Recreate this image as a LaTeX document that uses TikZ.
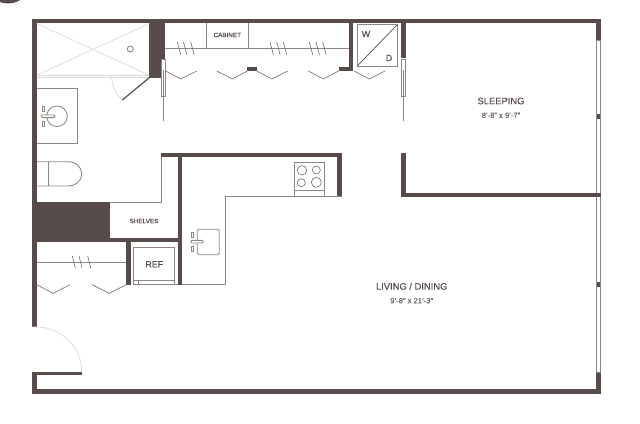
\documentclass[tikz,border=0pt]{standalone}
\usepackage{fontspec}
\setmainfont[FakeBold=0.25]{Liberation Sans}
\definecolor{walldark}{HTML}{574C49}
\definecolor{linegray}{HTML}{8E8684}
\definecolor{faintgray}{HTML}{DAD8D7}
\tikzset{
	wall/.style={
		fill=walldark,
		draw=none
	},
	fixture/.style={
		draw=linegray,
		line width=0.75pt
	},
	thinline/.style={
		draw=walldark!85,
		line width=0.5pt
	},
	faint/.style={
		draw=faintgray,
		line width=0.6pt
	},
	roomname/.style={
		text=walldark,
		inner sep=0,
		font=\fontsize{8}{9}\selectfont
	},
	roomsize/.style={
		text=walldark!85,
		inner sep=0,
		font=\fontsize{6.5}{7}\selectfont
	},
	tinyname/.style={
		text=walldark,
		inner sep=0,
		font=\fontsize{5.4}{7}\selectfont
	},
	applname/.style={
		text=walldark,
		inner sep=0,
		font=\fontsize{7.6}{9}\selectfont
	}
}
\begin{document}
\begin{tikzpicture}[x=0.03cm, y=-0.03cm]
		\useasboundingbox (0,0) rectangle (640,424);
		\begin{scope}
		\clip (0,0) rectangle (640,424);
		\fill[walldark] (8,-20) circle [radius=23.5];
		\end{scope}

		% outer walls
		\fill[wall] (32,19) rectangle (601,23.5);
		\fill[wall] (32,19) rectangle (36.7,327);
		\fill[wall] (32,372.3) rectangle (36.7,394);
		\fill[wall] (32,389.3) rectangle (601,394);
		\fill[wall] (36,372.3) rectangle (81.7,374.7);
		\fill[wall] (596,19) rectangle (601,40.7);
		\fill[wall] (596,114) rectangle (601,119);
		\fill[wall] (596,282) rectangle (601,287);
		\fill[wall] (596,372) rectangle (601,394);
		\draw[fixture] (596.4,40.7) rectangle (600.6,372);

		% sleeping walls
		\fill[wall] (401,19) rectangle (405.7,58);
		\fill[wall] (401,153) rectangle (406,197.3);
		\fill[wall] (401,192.7) rectangle (601,197.3);

		% inner walls
		\fill[wall] (149.3,19) rectangle (165.3,77.7);
		\fill[wall] (349,19) rectangle (353.3,71);
		\fill[wall] (338.7,66.7) rectangle (353.3,71);
		\fill[wall] (247.3,66.7) rectangle (256.7,71);
		\fill[wall] (32,202) rectangle (110,242.3);
		\fill[wall] (32,238.3) rectangle (178,242.3);
		\fill[wall] (126,238.3) rectangle (130.7,284.7);
		\fill[wall] (161.3,152.7) rectangle (341.7,157.4);
		\fill[wall] (177.7,152.7) rectangle (182.3,284.7);
		\fill[wall] (336.7,152.7) rectangle (341.7,196.7);

		% shower
		\draw[faint] (36.7,23.5) -- (149.3,75.3);
		\draw[faint] (36.7,75.3) -- (149.3,23.5);
		\draw[faint] (36.7,75.3) -- (149.3,75.3);
		\draw[faint] (36.7,77.7) -- (149.3,77.7);
		\draw[fixture] (130.3,49) circle [radius=3];
		\draw[faint] (111.7,77) .. controls (112,87) and (116,95) .. (122.3,100);
		\draw[walldark, line width=1pt] (122.3,100) -- (149.3,77.7);

		% sliding doors
		\draw[fixture, fill=white] (161.3,59) rectangle (165.3,96.7);
		\draw[fixture] (163.3,70) -- (163.3,96.7);
		\draw[fixture] (163.3,96.7) -- (163.3,120.5);
		\draw[fixture, fill=white] (401.7,59) rectangle (405.7,96.7);
		\draw[fixture] (403.7,70) -- (403.7,96.7);
		\draw[fixture] (403.3,96.7) -- (403.3,120.5);

		% vanity
		\draw[fixture] (36.7,88.7) -- (77.5,88.7) -- (77.5,143.3) -- (36.7,143.3);
		\draw[fixture] (57,116.3) circle [radius=10.3];
		\draw[fixture, fill=white, rounded corners=1pt] (41.3,115) rectangle (55,117.6);
		\draw[fixture] (42.2,106.2) rectangle (44.6,111.2);
		\draw[fixture] (42.2,121.5) rectangle (44.6,126.5);

		% toilet
		\draw[fixture] (36.7,161.7) -- (68,161.7) .. controls (76,161.7) and (81.7,167) .. (81.7,174) .. controls (81.7,181) and (76,186) .. (68,186) -- (36.7,186);
		\draw[fixture] (48.3,161.7) -- (48.3,186);

		% bath edge, shelves
		\draw[fixture] (110,202) -- (161.7,202) -- (161.7,157);
		\node[tinyname] (shelves) at (144,221) {SHELVES};

		% closet by the bath
		\draw[fixture] (165.3,48.7) -- (349,48.7);
		\draw[fixture] (206.7,23.5) -- (206.7,48.7);
		\draw[fixture] (248.3,23.5) -- (248.3,48.7);
		\node[tinyname] (cabinet) at (227.3,35) {CABINET};
		\draw[thinline] (177.3,42) -- +(3.5,13);
		\draw[thinline] (183.5,42) -- +(3.5,13);
		\draw[thinline] (190.7,42) -- +(3.5,13);
		\draw[thinline] (270,42) -- +(3.5,13);
		\draw[thinline] (276.7,42) -- +(3.5,13);
		\draw[thinline] (283.3,42) -- +(3.5,13);
		\draw[thinline] (309.3,42) -- +(3.5,13);
		\draw[thinline] (316,42) -- +(3.5,13);
		\draw[thinline] (322.7,42) -- +(3.5,13);
		\draw[thinline] (165.7,71) -- (180.7,79) -- (196.7,71);
		\draw[thinline] (216.7,71) -- (232.3,79) -- (247.3,71);
		\draw[thinline] (256.7,71) -- (272,79) -- (287.7,71);
		\draw[thinline] (308.3,71) -- (323.3,79) -- (338.7,71);
		\draw[thinline] (354,71) -- (369.3,79) -- (385,71);

		% washer, dryer
		\draw[fixture] (357.3,24.7) rectangle (397.3,66);
		\draw[walldark, line width=0.6pt] (357.3,66) -- (397.3,24.7);
		\node[applname] (washer) at (366,34) {W};
		\node[applname] (dryer) at (389,58) {D};

		% entry closet
		\draw[fixture] (36.7,262.3) -- (126,262.3);
		\draw[thinline] (72.3,256) -- +(3,12);
		\draw[thinline] (79,256) -- +(3,12);
		\draw[thinline] (87.7,256) -- +(3,12);
		\draw[thinline] (36.7,284.7) -- (53.3,293.3) -- (70,284.7);
		\draw[thinline] (92.3,284.7) -- (109.3,293.3) -- (126,284.7);

		% ref
		\draw[fixture] (133.3,247.3) rectangle (174.3,284.7);
		\draw[fixture] (133.3,280) -- (174.3,280);
		\draw[fixture] (138.7,280) -- (138.7,284.7);
		\draw[fixture] (174.3,284.7) -- (177.7,284.7);
		\node[applname] (ref) at (154.3,264.3) {REF};

		% kitchen
		\draw[fixture] (182.3,284.7) -- (225.7,284.7) -- (225.7,196.7) -- (341.7,196.7);
		\draw[fixture] (294,196.7) -- (294,162) -- (324.7,162) -- (324.7,196.7);
		\draw[fixture] (294,190.7) -- (324.7,190.7);
		\draw[thinline] (302,170.3) circle [radius=4.7];
		\draw[thinline] (316.3,170) circle [radius=4];
		\draw[thinline] (301.3,182.7) circle [radius=4];
		\draw[thinline] (316.3,182.3) circle [radius=5];
		\draw[fixture, rounded corners=1.2pt] (197.3,229.3) rectangle (219.3,254.7);
		\draw[fixture, fill=white, rounded corners=1pt] (190.7,240.4) rectangle (203.3,243);
		\draw[fixture] (191.5,232) rectangle (193.9,237);
		\draw[fixture] (191.5,246.2) rectangle (193.9,251.2);

		% entry door
		\draw[faint] (32,327) -- (36.7,327) .. controls (61.6,327) and (81.7,347.1) .. (81.7,372);

		% rooms
		\node[roomname] (sleeping) at (501,101) {SLEEPING};
		\node[roomsize] (sleepingsize) at (501,115.3) {8'-8" x 9'-7"};
		\node[roomname] (living) at (411.7,286.3) {LIVING / DINING};
		\node[roomsize] (livingsize) at (411.7,300.7) {9'-8" x 21'-3"};
		\end{tikzpicture}
\end{document}
